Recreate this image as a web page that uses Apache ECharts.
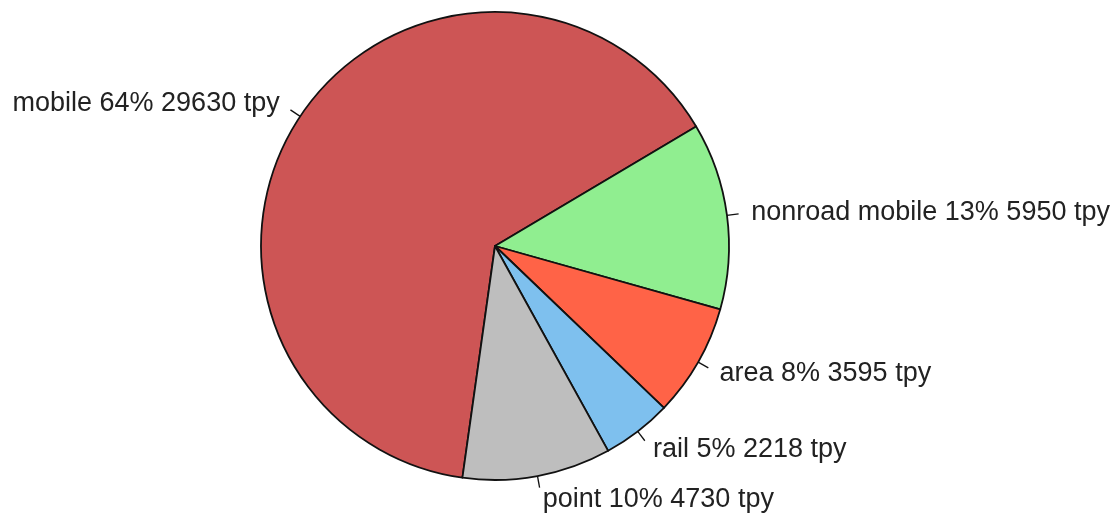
<!DOCTYPE html>
<html>
<head>
<meta charset="utf-8">
<script src="https://cdn.jsdelivr.net/npm/echarts@6/dist/echarts.min.js"></script>
<style>
  html, body { margin: 0; padding: 0; background: #fff; }
  #chart { width: 1112px; height: 514px; }
</style>
</head>
<body>
<div id="chart"></div>
<script>
// emission sources (tons per year)
const sources = ['mobile', 'nonroad mobile', 'area', 'rail', 'point'];
const tpy = [29630, 5950, 3595, 2218, 4730];
const colors = ['#CD5555', '#90EE90', '#FF6347', '#7EC0EE', '#BEBEBE'];

const R = 234;
const center = [495, 246];
const startAngle = 262;
const total = tpy.reduce((a, b) => a + b, 0);

const sliceData = sources.map((name, i) => ({
  name: name,
  value: tpy[i],
  itemStyle: { color: colors[i] }
}));
const labelData = sources.map((name, i) => ({ name: name, value: tpy[i] }));

const chart = echarts.init(document.getElementById('chart'));
chart.setOption({
  backgroundColor: '#fff',
  animation: false,
  series: [
    {
      // slices + short tick marks (r -> 1.05r)
      type: 'pie',
      center: center,
      radius: R,
      startAngle: startAngle,
      clockwise: true,
      avoidLabelOverlap: false,
      silent: true,
      data: sliceData,
      itemStyle: { borderColor: '#111', borderWidth: 1.8 },
      label: { show: true, position: 'outside', formatter: ' ', fontSize: 1, distanceToLabelLine: 0, color: 'rgba(0,0,0,0)' },
      labelLine: { show: true, length: 0.05 * R, length2: 0, lineStyle: { color: '#111', width: 1.3 } },
      labelLayout: { hideOverlap: false }
    },
    {
      // labels sit at 1.1r like R's pie()
      type: 'pie',
      center: center,
      radius: R,
      startAngle: startAngle,
      clockwise: true,
      avoidLabelOverlap: false,
      silent: true,
      data: labelData,
      itemStyle: { color: 'rgba(0,0,0,0)', borderWidth: 0 },
      label: {
        show: true,
        position: 'outside',
        fontFamily: 'Liberation Sans, Arial, sans-serif',
        fontSize: 27,
        color: '#222',
        distanceToLabelLine: 1,
        formatter: p => p.name + ' ' + Math.round(p.value / total * 100) + '% ' + p.value + ' tpy'
      },
      labelLine: { show: true, length: 0.1 * R, length2: 0, lineStyle: { opacity: 0 } },
      labelLayout: { hideOverlap: false }
    }
  ]
});
</script>
</body>
</html>
